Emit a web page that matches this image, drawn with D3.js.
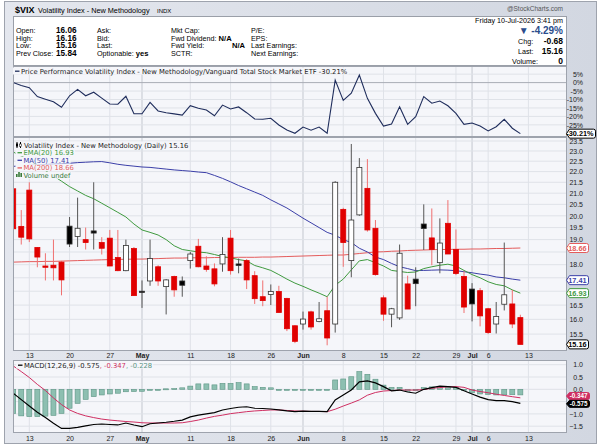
<!DOCTYPE html>
<html>
<head>
<meta charset="utf-8">
<script src="https://cdn.jsdelivr.net/npm/d3@7"></script>
<style>
body{margin:0;background:#fff}
svg{display:block}
text{font-family:"Liberation Sans",Arial,sans-serif}
.lg{font-family:"DejaVu Sans",Verdana,sans-serif;font-size:6.8px}
</style>
</head>
<body>
<svg></svg>
<script>
// trading days shown (2026, MM-DD)
const dates=["04-09","04-10","04-13","04-14","04-15","04-16","04-17","04-20","04-21","04-22","04-23","04-24","04-27","04-28","04-29","04-30","05-01","05-04","05-05","05-06","05-07","05-08","05-11","05-12","05-13","05-14","05-15","05-18","05-19","05-20","05-21","05-22","05-26","05-27","05-28","05-29","06-01","06-02","06-03","06-04","06-05","06-08","06-09","06-10","06-11","06-12","06-15","06-16","06-17","06-18","06-22","06-23","06-24","06-25","06-26","06-29","06-30","07-01","07-02","07-06","07-07","07-08","07-09","07-10"]
const futureDates=["07-13","07-14","07-15","07-16","07-17"]

const opens=[21.2,19.55,21.14,18.68,17.95,17.98,18.1,19.56,19.13,19.0,19.36,18.88,19.06,18.28,17.77,18.64,17.0,17.38,17.92,17.17,17.55,17.38,18.16,18.73,17.95,17.84,18.03,19.06,18.03,18.16,17.58,16.8,16.88,16.99,16.74,15.78,15.84,16.26,15.93,16.3,15.84,20.28,18.16,20.04,21.22,19.47,16.76,16.18,16.05,17.27,17.45,19.65,19.07,18.08,19.68,18.6,17.55,17.08,17.02,16.37,15.84,16.53,16.54,16.06]
const highs=[21.3,20.25,21.5,18.7,18.45,19.0,18.15,19.95,20.8,19.5,21.5,19.1,19.4,19.4,19.0,18.7,17.4,19.0,17.98,17.45,17.58,17.55,18.5,19.03,18.33,18.05,19.1,19.4,18.24,18.22,17.75,17.4,17.25,17.2,16.76,15.8,16.27,16.3,16.61,16.8,21.55,20.35,23.35,22.65,22.6,19.82,16.85,16.4,18.8,17.58,17.9,20.5,20.32,19.89,20.69,19.42,17.75,17.3,17.12,16.4,16.61,18.88,17.05,16.16]
const lows=[19.4,18.8,18.9,17.9,17.4,17.4,16.85,18.7,18.7,18.6,18.6,18.4,17.95,17.75,17.75,16.84,16.4,17.2,17.2,16.17,16.8,16.8,17.85,17.9,17.73,17.18,17.73,17.62,17.67,17.08,16.54,16.46,16.5,16.24,15.6,15.2,15.65,15.65,15.9,15.13,15.55,17.92,17.52,20.0,19.33,17.58,15.95,15.73,15.98,16.36,16.46,18.58,17.98,17.67,18.42,17.6,16.22,15.93,15.76,15.5,15.52,16.31,15.7,15.16]
const closes=[19.45,19.1,19.03,18.3,17.9,17.88,17.42,18.82,19.47,18.88,19.27,18.65,17.95,17.77,18.76,16.84,16.97,18.24,17.38,17.42,17.05,17.22,18.42,17.92,17.82,17.27,18.4,17.77,17.97,17.42,16.73,16.66,16.99,16.24,15.68,15.26,16.01,15.74,16.02,15.37,21.5,18.88,19.82,22.2,19.4,17.62,16.18,16.37,18.45,16.36,17.28,19.46,18.6,18.86,18.42,17.66,16.43,16.54,16.12,15.55,16.1,16.87,15.84,15.16]

const ema20=[22.95,22.75,22.55,22.3,22.05,21.8,21.55,21.3,21.1,20.9,20.75,20.55,20.35,20.15,19.95,19.65,19.4,19.3,19.19,19.0,18.75,18.6,18.55,18.5,18.47,18.4,18.32,18.27,18.2,18.15,17.97,17.88,17.78,17.62,17.45,17.3,17.18,17.05,16.93,16.8,17.22,17.45,17.8,18.15,18.2,18.08,17.95,17.78,17.74,17.7,17.72,17.85,17.92,17.98,18.02,17.95,17.78,17.62,17.5,17.35,17.25,17.2,17.05,16.93]
const ma50=[22.25,22.28,22.3,22.32,22.34,22.36,22.38,22.4,22.43,22.45,22.47,22.48,22.42,22.35,22.3,22.26,22.22,22.2,22.16,22.12,22.08,22.05,22.02,21.98,21.95,21.82,21.68,21.52,21.35,21.2,21.05,20.9,20.7,20.52,20.34,20.12,19.9,19.7,19.5,19.3,19.18,19.0,18.88,18.65,18.5,18.3,18.2,18.05,17.92,17.85,17.77,17.78,17.79,17.8,17.79,17.77,17.73,17.69,17.64,17.6,17.53,17.5,17.45,17.41]
const ma200=[18.1,18.11,18.12,18.12,18.13,18.13,18.14,18.15,18.16,18.17,18.18,18.19,18.2,18.21,18.21,18.22,18.22,18.23,18.24,18.25,18.26,18.26,18.27,18.27,18.27,18.28,18.28,18.28,18.29,18.29,18.29,18.3,18.3,18.31,18.32,18.33,18.34,18.35,18.36,18.37,18.38,18.38,18.41,18.44,18.47,18.5,18.51,18.53,18.54,18.56,18.57,18.58,18.59,18.6,18.6,18.61,18.61,18.62,18.62,18.63,18.64,18.64,18.65,18.66]

// price performance $VIX / VTI, percent
const perf=[0,-1.7,-3.0,-8.3,-9.8,-11.3,-14.6,-7.8,-4.0,-7.8,-5.7,-9.2,-12.7,-12.8,-8.1,-18.4,-18.4,-11.7,-16.8,-17.8,-18.5,-19.2,-13.7,-15.2,-16.2,-19.6,-13.3,-15.6,-14.4,-17.8,-21.5,-21.7,-21.1,-25.1,-28.0,-30.0,-26.3,-28.2,-26.3,-30.0,1.5,-10.5,-6.3,4.5,-9.3,-18.2,-25.7,-24.5,-14.3,-24.7,-20.2,-8.3,-12.2,-10.9,-13.7,-18.2,-24.7,-23.9,-25.7,-28.6,-26.1,-21.7,-27.0,-30.21]

const macd=[-0.16,-0.42,-0.68,-0.93,-1.15,-1.38,-1.59,-1.59,-1.55,-1.49,-1.43,-1.41,-1.43,-1.45,-1.37,-1.45,-1.52,-1.40,-1.37,-1.34,-1.30,-1.25,-1.12,-1.05,-1.0,-0.95,-0.84,-0.78,-0.73,-0.71,-0.77,-0.78,-0.80,-0.84,-0.88,-0.91,-0.89,-0.9,-0.9,-0.91,-0.43,-0.23,-0.03,0.30,0.34,0.26,0.11,-0.06,-0.03,-0.11,-0.16,0.0,0.07,0.13,0.11,0.08,-0.06,-0.19,-0.32,-0.42,-0.46,-0.46,-0.5,-0.575]
const signal=[0.95,0.72,0.48,0.2,-0.05,-0.35,-0.62,-0.84,-0.98,-1.08,-1.15,-1.21,-1.25,-1.28,-1.31,-1.33,-1.36,-1.37,-1.37,-1.37,-1.37,-1.36,-1.31,-1.25,-1.17,-1.1,-1.05,-0.99,-0.95,-0.91,-0.88,-0.86,-0.84,-0.84,-0.86,-0.88,-0.89,-0.9,-0.9,-0.91,-0.81,-0.68,-0.56,-0.43,-0.24,-0.13,-0.07,-0.05,-0.03,-0.03,-0.03,-0.01,0.04,0.07,0.1,0.11,0.08,-0.03,-0.09,-0.14,-0.2,-0.25,-0.3,-0.347]
const hist=[-0.98,-1.08,-1.11,-1.11,-1.09,-1.06,-0.98,-0.77,-0.57,-0.41,-0.30,-0.23,-0.19,-0.16,-0.10,-0.09,-0.08,-0.03,-0.01,0.02,0.03,0.06,0.13,0.22,0.22,0.18,0.24,0.24,0.27,0.22,0.11,0.08,0.06,0.0,-0.02,-0.04,-0.02,-0.01,-0.01,-0.01,0.38,0.42,0.51,0.72,0.61,0.41,0.17,0.08,0.08,-0.08,-0.05,0.07,0.1,0.12,0.12,0.08,0.0,-0.14,-0.19,-0.21,-0.23,-0.22,-0.22,-0.228]

const tickDates=["04-13","04-20","04-27","05-01","05-11","05-18","05-26","06-01","06-08","06-15","06-22","06-29","07-01","07-06","07-13"]
const tickLabels=["13","20","27","May","11","18","26","Jun","8","15","22","29","Jul","6","13"]
const monthTicks=["May","Jun","Jul"]

const mainTicks=[15.5,16,16.5,17,17.5,18,18.5,19,19.5,20,20.5,21,21.5,22,22.5,23,23.5]
const perfTicks=[5,0,-5,-10,-15,-20,-25]
const macdTicks=[1,0.5,0,-0.5,-1,-1.5]

const W=600,H=448
const L=13,R=567
const pTop={y0:66,y1:137}, pMain={y0:137,y1:351}, pLow={y0:360,y1:433}

const svg=d3.select("svg").attr("width",W).attr("height",H)
const defs=svg.append("defs")
const grad=defs.append("linearGradient").attr("id","frame").attr("x1",0).attr("x2",1).attr("y1",0).attr("y2",0)
grad.append("stop").attr("offset","0%").attr("stop-color","#e4e7ee")
grad.append("stop").attr("offset","100%").attr("stop-color","#d2d7e1")

svg.append("rect").attr("x",4.5).attr("y",1.5).attr("width",592).attr("height",442)
	.attr("fill","url(#frame)").attr("stroke","#9ea3ad")

//scales
const x=d3.scalePoint().domain(dates.concat(futureDates)).range([13.2,13.2+8.05*68])
const yMain=d3.scaleLog().domain([15,23.5]).range([349.3,141])
const yPerf=d3.scaleLinear().domain([5,-30]).range([74.15,133.3])
const yMacd=d3.scaleLinear().domain([1,-1.5]).range([364.7,426.2])

//header
const head=svg.append("g")
head.append("text").attr("x",15).attr("y",13).attr("font-size",9).attr("font-weight","bold").text("$VIX")
head.append("text").attr("x",38).attr("y",12.5).attr("font-size",7.3).text("Volatility Index - New Methodology")
head.append("text").attr("x",157).attr("y",12.5).attr("font-size",6).text("INDX")
head.append("text").attr("x",563).attr("y",10.5).attr("font-size",6.5).attr("fill","#555").attr("text-anchor","end").text("@StockCharts.com")
head.append("rect").attr("x",13.5).attr("y",16.5).attr("width",553).attr("height",49).attr("fill","#fff").attr("stroke","#9a9fa8")

const infoLabels=[["Open:","High:","Low:","Prev Close:"],["Ask:","Bid:","Last:","Optionable:"],["Mkt Cap:","Fwd Dividend:","Fwd Yield:","SCTR:"],["P/E:","EPS:","Last Earnings:","Next Earnings:"]]
const infoValues=[["16.06","16.16","15.16","15.84"],["","","","yes"],["","N/A","N/A",""],["","","",""]]
const colX=[16,97,171,251]
infoLabels.forEach((col,c)=>{
	col.forEach((lab,r)=>{
		const t=head.append("text").attr("x",colX[c]).attr("y",33+r*7.7).attr("font-size",7.2).text(lab)
		const v=infoValues[c][r]
		if(v){
			let vx=c==0?56:colX[c]+t.node().getComputedTextLength()+2
			if(c==2&&r==2) vx=232
			head.append("text").attr("x",vx).attr("y",33+r*7.7).attr("font-size",c==0?8.2:7.6).attr("font-weight","bold").text(v)
		}
	})
})
head.append("text").attr("x",563).attr("y",22.5).attr("font-size",7.2).attr("text-anchor","end").text("Friday  10-Jul-2026  3:41 pm")
head.append("text").attr("x",563).attr("y",34.3).attr("font-size",10).attr("font-weight","bold").attr("fill","#2b4d8c").attr("text-anchor","end").text("\u25BC -4.29%")
const rightRows=[["Chg:","-0.68",43.8],["Last:","15.16",54],["Volume:","0",63.6]]
rightRows.forEach(r=>{
	head.append("text").attr("x",r[0]=="Volume:"?512:518).attr("y",r[2]).attr("font-size",7.2).text(r[0])
	head.append("text").attr("x",563).attr("y",r[2]).attr("font-size",8.5).attr("font-weight","bold").attr("text-anchor","end").text(r[1])
})

//panel backgrounds, grids
const panels=[pTop,pMain,pLow]
panels.forEach((p,k)=>{
	svg.append("rect").attr("x",L).attr("y",p.y0).attr("width",R-L).attr("height",p.y1-p.y0).attr("fill","#f5f6fa")
	defs.append("clipPath").attr("id","clip"+k).append("rect").attr("x",L).attr("y",p.y0).attr("width",R-L).attr("height",p.y1-p.y0)
	p.clip="url(#clip"+k+")"
	const g=svg.append("g").attr("clip-path",p.clip)
	g.selectAll("line.v").data(tickDates).enter().append("line")
		.attr("x1",d=>x(d)).attr("x2",d=>x(d)).attr("y1",p.y0).attr("y2",p.y1)
		.attr("stroke",(d,i)=>monthTicks.includes(tickLabels[i])?"#c3c7cf":"#dfe2e8").attr("stroke-width",1)
	p.grid=g
})
pTop.grid.selectAll("line.h").data(perfTicks).enter().append("line")
	.attr("x1",L).attr("x2",R).attr("y1",d=>yPerf(d)).attr("y2",d=>yPerf(d))
	.attr("stroke",d=>d==0?"#a9adb5":"#dfe2e8")
pMain.grid.selectAll("line.h").data(mainTicks).enter().append("line")
	.attr("x1",L).attr("x2",R).attr("y1",d=>yMain(d)).attr("y2",d=>yMain(d)).attr("stroke","#dfe2e8")
pLow.grid.selectAll("line.h").data(macdTicks).enter().append("line")
	.attr("x1",L).attr("x2",R).attr("y1",d=>yMacd(d)).attr("y2",d=>yMacd(d)).attr("stroke","#dfe2e8")

//performance line
const perfG=svg.append("g").attr("clip-path",pTop.clip)
perfG.append("path").datum(perf)
	.attr("d",d3.line().x((d,i)=>x(dates[i])).y(d=>yPerf(d)))
	.attr("fill","none").attr("stroke","#1f2d5c").attr("stroke-width",1.1)

//moving averages
const mainG=svg.append("g").attr("clip-path",pMain.clip)
const maLine=d3.line().x((d,i)=>x(dates[i])).y(d=>yMain(d))
mainG.append("path").datum(ma200).attr("d",maLine).attr("fill","none").attr("stroke","#e45c5c").attr("stroke-width",1)
mainG.append("path").datum(ma50).attr("d",maLine).attr("fill","none").attr("stroke","#3b3fa8").attr("stroke-width",1)
mainG.append("path").datum(ema20).attr("d",maLine).attr("fill","none").attr("stroke","#3f9a3f").attr("stroke-width",1)

//candles
const candles=dates.map((d,i)=>({d:d,o:opens[i],h:highs[i],l:lows[i],c:closes[i],up:i>0&&closes[i]>closes[i-1]}))
const cg=mainG.selectAll("g.c").data(candles).enter().append("g")
cg.append("line").attr("x1",d=>x(d.d)).attr("x2",d=>x(d.d)).attr("y1",d=>yMain(d.h)).attr("y2",d=>yMain(d.l))
	.attr("stroke",d=>d.up?"#555":"#f07070").attr("stroke-width",1)
cg.append("rect")
	.attr("x",d=>x(d.d)-2.5).attr("width",5)
	.attr("y",d=>yMain(Math.max(d.o,d.c)))
	.attr("height",d=>Math.max(1.2,yMain(Math.min(d.o,d.c))-yMain(Math.max(d.o,d.c))))
	.attr("fill",d=>d.c>d.o?"#fff":(d.up?"#000":"#e00000"))
	.attr("stroke",d=>d.up?"#333":"#e00000").attr("stroke-width",0.8)

//macd
const macdG=svg.append("g").attr("clip-path",pLow.clip)
macdG.selectAll("rect").data(hist).enter().append("rect")
	.attr("x",(d,i)=>x(dates[i])-2.5).attr("width",5)
	.attr("y",d=>Math.min(yMacd(0),yMacd(d)))
	.attr("height",d=>Math.max(1,Math.abs(yMacd(d)-yMacd(0))))
	.attr("fill","#8dbfb1").attr("stroke","#5c9584").attr("stroke-width",0.6)
const mLine=d3.line().x((d,i)=>x(dates[i])).y(d=>yMacd(d))
macdG.append("path").datum(signal).attr("d",mLine).attr("fill","none").attr("stroke","#cf2f62").attr("stroke-width",1)
macdG.append("path").datum(macd).attr("d",mLine).attr("fill","none").attr("stroke","#000").attr("stroke-width",1.2)

//panel borders
panels.forEach(p=>{
	svg.append("rect").attr("x",L+0.5).attr("y",p.y0+0.5).attr("width",R-L-1).attr("height",p.y1-p.y0-1)
		.attr("fill","none").attr("stroke","#9ea3ad")
})

//right axes
function rightAxis(scale,ticks,fmt,hideNear){
	const show=ticks.filter(t=>hideNear.every(h=>Math.abs(scale(t)-scale(h))>6.5))
	const ax=svg.append("g").attr("transform","translate("+R+",0)")
		.call(d3.axisRight(scale).tickValues(show).tickFormat(fmt).tickSize(0).tickPadding(0))
	ax.select(".domain").remove()
	ax.selectAll("text").attr("x",16).attr("text-anchor","end").attr("font-size",7).attr("fill","#222")
		.attr("font-family","'Liberation Sans',Arial,sans-serif")
}
rightAxis(yPerf,perfTicks,d=>d+"%",[-30.21])
rightAxis(yMain,mainTicks,d3.format(".1f"),[15.16,18.66,17.41,16.93])
rightAxis(yMacd,macdTicks,d3.format(".1f"),[-0.347,-0.575])

// value tag on the right axis
function tag(y,txt,stroke,fill,color,w,h,fs){
	const x0=R-0.5
	svg.append("path")
		.attr("d",`M${x0},${y} L${x0+3},${y-h/2} H${x0+w-2} Q${x0+w},${y-h/2} ${x0+w},${y-h/2+2} V${y+h/2-2} Q${x0+w},${y+h/2} ${x0+w-2},${y+h/2} H${x0+3} Z`)
		.attr("fill",fill).attr("stroke",stroke).attr("stroke-width",1)
	svg.append("text").attr("x",x0+w-2).attr("y",y+fs*0.36).attr("text-anchor","end").attr("font-size",fs)
		.attr("font-weight","bold").attr("fill",color).text(txt)
}
tag(yPerf(-30.21),"-30.21%","#000","#fff","#000",29,9,7.3)
tag(yMain(18.66),"18.66","#e45c5c","#fff","#e45c5c",22,9,7.3)
tag(yMain(17.41),"17.41","#3b3fa8","#fff","#3b3fa8",22,9,7.3)
tag(yMain(16.93),"16.93","#3f9a3f","#fff","#3f9a3f",22,9,7.3)
tag(yMain(15.16),"15.16","#000","#fff","#000",22,9,7.3)
tag(yMacd(-0.347)-1.8,"-0.347","#cf2f62","#cf2f62","#fff",23,7,6.3)
tag(yMacd(-0.575)+0.4,"-0.575","#000","#000","#fff",23,7,6.3)

//date axes
function dateAxis(y){
	const ax=svg.append("g").attr("transform","translate(0,"+y+")")
		.call(d3.axisBottom(x).tickValues(tickDates).tickFormat((d,i)=>tickLabels[i]).tickSize(0).tickPadding(0))
	ax.select(".domain").remove()
	ax.selectAll("text").attr("font-size",7).attr("fill","#222").attr("dy","0.35em")
		.attr("font-family","'Liberation Sans',Arial,sans-serif")
		.attr("font-weight",(d,i)=>monthTicks.includes(tickLabels[i])?"bold":"normal")
}
dateAxis(355.5)
dateAxis(438.5)

//legends
function legendRow(g,xx,y,parts,icon){
	const t=g.append("text").attr("class","lg").attr("x",xx).attr("y",y)
	parts.forEach(p=>t.append("tspan").attr("fill",p[1]).text(p[0]))
	const b=t.node().getBBox()
	g.insert("rect","text").attr("x",b.x-8).attr("y",b.y).attr("width",b.width+9).attr("height",b.height-1).attr("fill","#f5f6fa")
	if(icon=="dash") g.append("line").attr("x1",xx-6).attr("x2",xx-1.5).attr("y1",y-2.3).attr("y2",y-2.3).attr("stroke",parts[0][1]).attr("stroke-width",1.3)
	return t
}
const lgTop=svg.append("g")
legendRow(lgTop,21,73.5,[["Price Performance Volatility Index - New Methodology/Vanguard Total Stock Market ETF -30.21%","#222"]],"dash")
lgTop.select("line").attr("stroke","#1f2d5c")

const lgMain=svg.append("g")
legendRow(lgMain.append("g"),24,147.5,[["Volatility Index - New Methodology (Daily) 15.16","#222"]])
lgMain.append("line").attr("x1",17).attr("x2",17).attr("y1",142).attr("y2",148).attr("stroke","#000")
lgMain.append("rect").attr("x",16).attr("y",143.5).attr("width",2).attr("height",3).attr("fill","#000")
lgMain.append("line").attr("x1",20.5).attr("x2",20.5).attr("y1",142).attr("y2",148).attr("stroke","#000")
lgMain.append("rect").attr("x",19.5).attr("y",144).attr("width",2).attr("height",2.5).attr("fill","#fff").attr("stroke","#000").attr("stroke-width",0.5)
legendRow(lgMain.append("g"),23.5,155,[["EMA(20) 16.93","#3f9a3f"]],"dash")
legendRow(lgMain.append("g"),23.5,162.6,[["MA(50) 17.41","#3b3fa8"]],"dash")
legendRow(lgMain.append("g"),23.5,170.2,[["MA(200) 18.66","#e45c5c"]],"dash")
legendRow(lgMain.append("g"),23.5,177.8,[["Volume undef","#3a7a3a"]])
lgMain.selectAll("rect.vi").data([3,5,4]).enter().append("rect")
	.attr("x",(d,i)=>16+i*2.2).attr("y",d=>177-d).attr("width",1.6).attr("height",d=>d).attr("fill","#3a7a3a")

const lgLow=svg.append("g")
legendRow(lgLow,24,367.5,[["MACD(12,26,9) -0.575","#222"],[", -0.347","#cf2f62"],[", -0.228","#5c9584"]],"dash")
lgLow.select("line").attr("stroke","#000")
</script>
</body>
</html>
